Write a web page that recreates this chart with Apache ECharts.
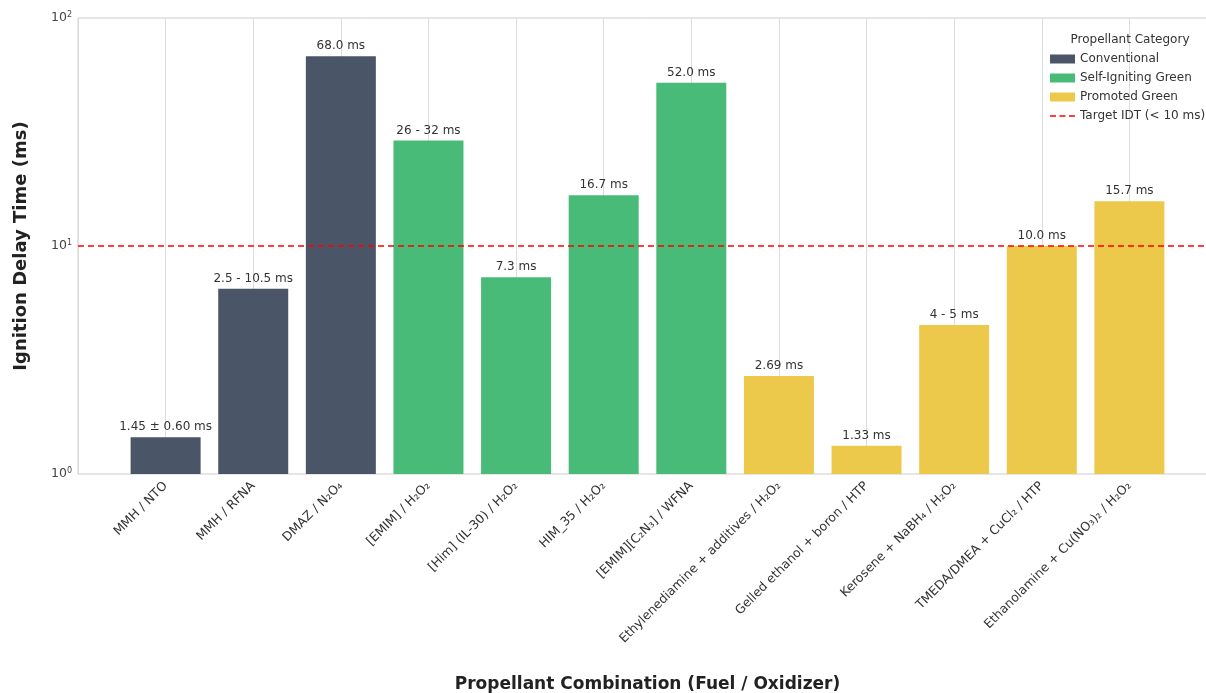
<html>
<head>
<meta charset="UTF-8" />
<title>Ignition Delay Time</title>
<script src="https://cdn.jsdelivr.net/npm/echarts@6/dist/echarts.min.js"></script>
<style>
  body { margin: 0; background: #fff; }
  #main { width: 1206px; height: 693px; }
</style>
</head>
<body>
<div id="main"></div>
<script type="text/javascript">
var categories = [
  'MMH / NTO', 'MMH / RFNA', 'DMAZ / N₂O₄', '[EMIM] / H₂O₂', '[Him] (IL-30) / H₂O₂',
  'HIM_35 / H₂O₂', '[EMIM][C₂N₃] / WFNA', 'Ethylenediamine + additives / H₂O₂',
  'Gelled ethanol + boron / HTP', 'Kerosene + NaBH₄ / H₂O₂', 'TMEDA/DMEA + CuCl₂ / HTP',
  'Ethanolamine + Cu(NO₃)₂ / H₂O₂'
];
var delays = [1.45, 6.5, 68.0, 29, 7.3, 16.7, 52.0, 2.69, 1.33, 4.5, 10.0, 15.7];
var valueLabels = [
  '1.45 ± 0.60 ms', '2.5 - 10.5 ms', '68.0 ms', '26 - 32 ms', '7.3 ms', '16.7 ms',
  '52.0 ms', '2.69 ms', '1.33 ms', '4 - 5 ms', '10.0 ms', '15.7 ms'
];
var groups = ['Conventional', 'Conventional', 'Conventional',
  'Self-Igniting Green', 'Self-Igniting Green', 'Self-Igniting Green', 'Self-Igniting Green',
  'Promoted Green', 'Promoted Green', 'Promoted Green', 'Promoted Green', 'Promoted Green'];
var groupNames = ['Conventional', 'Self-Igniting Green', 'Promoted Green'];
var groupColors = ['#4a5568', '#48bb78', '#ecc94b'];
var target = 10;

var myChart = echarts.init(document.getElementById('main'));
var font = 'DejaVu Sans';

var series = groupNames.map(function (g, k) {
  var data = [];
  for (var i = 0; i < delays.length; i++) {
    if (groups[i] === g) data.push([i, delays[i]]);
  }
  return {
    name: g,
    type: 'bar',
    data: data,
    barWidth: 70,
    barGap: '-100%',
    itemStyle: { color: groupColors[k] },
    label: {
      show: true,
      position: 'top',
      distance: 4,
      color: '#333',
      fontFamily: font,
      fontSize: 12,
      formatter: function (p) { return valueLabels[p.value[0]]; }
    },
    z: 3
  };
});

series.push({
  name: 'Target IDT (< 10 ms)',
  type: 'line',
  data: [],
  symbol: 'none',
  lineStyle: { color: '#ff0000', type: [6, 4], width: 1.6 },
  itemStyle: { color: '#ff0000' },
  markLine: {
    silent: true,
    symbol: 'none',
    label: { show: false },
    lineStyle: { color: '#ff0000', type: [6, 4], width: 1.6 },
    data: [{ yAxis: target }]
  },
  z: 5
});

// dashed line icon for the legend, 25 x 9 box
var dashIcon = 'path://M0,0h0.01v0.01h-0.01z M25,9h-0.01v-0.01h0.01z ' +
  'M0,3.7h6v1.6h-6z M9.5,3.7h6v1.6h-6z M19,3.7h6v1.6h-6z';

var option = {
  animation: false,
  textStyle: { fontFamily: font },
  title: {
    text: 'Propellant Category',
    left: 1125,
    top: 29,
    textAlign: 'center',
    textStyle: { fontFamily: font, fontSize: 12, fontWeight: 'normal', color: '#333' }
  },
  legend: {
    orient: 'vertical',
    left: 1045,
    top: 48,
    itemWidth: 25,
    itemHeight: 9,
    itemGap: 7,
    data: [
      { name: 'Conventional', icon: 'rect' },
      { name: 'Self-Igniting Green', icon: 'rect' },
      { name: 'Promoted Green', icon: 'rect' },
      { name: 'Target IDT (< 10 ms)', icon: dashIcon, itemStyle: { color: '#ff0000', borderWidth: 0 } }
    ],
    textStyle: { fontFamily: font, fontSize: 12, color: '#333' }
  },
  grid: {
    left: 78, right: -11, top: 18, bottom: 219,
    outerBoundsMode: 'none',
    containLabel: false,
    show: true, borderColor: '#cccccc', borderWidth: 1
  },
  xAxis: {
    type: 'value',
    min: -1,
    max: 12,
    interval: 1,
    name: 'Propellant Combination (Fuel / Oxidizer)',
    nameLocation: 'middle',
    nameGap: 202,
    nameTextStyle: { fontFamily: font, fontSize: 17, fontWeight: 'bold', color: '#222' },
    axisLine: { show: false },
    axisTick: { show: false },
    splitLine: { show: true, lineStyle: { color: '#dddddd', width: 1 } },
    axisLabel: {
      rotate: 45,
      margin: 10,
      color: '#333',
      fontFamily: font,
      fontSize: 12.5,
      formatter: function (v) { return categories[v] || ''; }
    }
  },
  yAxis: {
    type: 'log',
    logBase: 10,
    min: 1,
    max: 100,
    name: 'Ignition Delay Time (ms)',
    nameLocation: 'middle',
    nameGap: 48,
    nameTextStyle: { fontFamily: font, fontSize: 18, fontWeight: 'bold', color: '#222' },
    axisLine: { show: false },
    axisTick: { show: false },
    splitLine: { show: false },
    axisLabel: {
      color: '#444',
      fontFamily: font,
      fontSize: 12.5,
      margin: 6,
      formatter: function (v) {
        var e = Math.round(Math.log10(v));
        return '10{sup|' + e + '}';
      },
      rich: {
        sup: { fontSize: 8, verticalAlign: 'top', padding: [0, 0, 6, 0], color: '#444', fontFamily: font }
      }
    }
  },
  series: series
};

myChart.setOption(option);
</script>
</body>
</html>
